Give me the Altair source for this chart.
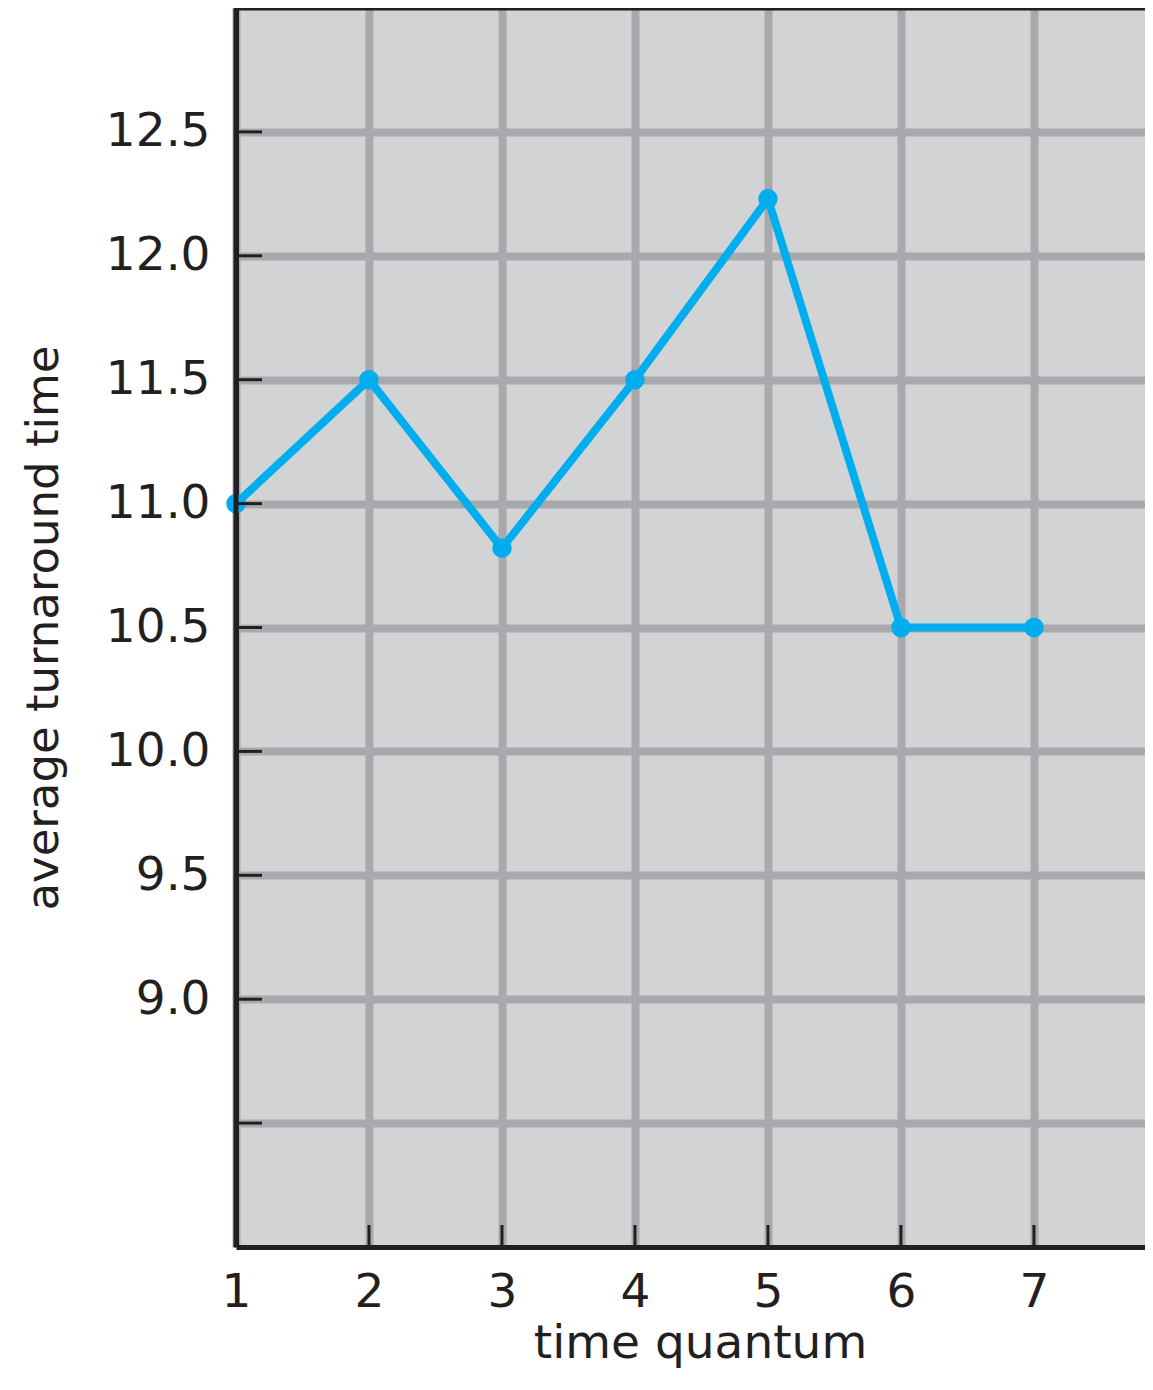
import altair as alt
import pandas as pd

# data
quantum = [1, 2, 3, 4, 5, 6, 7]
turnaround = [11.0, 11.5, 10.82, 11.5, 12.23, 10.5, 10.5]
x_ticks = [1, 2, 3, 4, 5, 6, 7]
x_inner_ticks = [2, 3, 4, 5, 6, 7]
y_ticks = [8.5, 9.0, 9.5, 10.0, 10.5, 11.0, 11.5, 12.0, 12.5]
y_top = [13.0]
x_left = [1]

FONT = "DejaVu Sans"
BLUE = "#00aeef"
GRID = "#a7a9ac"
BG = "#d1d3d4"
INK = "#231f20"

df = pd.DataFrame({"q": quantum, "t": turnaround})
dfx = pd.DataFrame({"x": x_inner_ticks})
dfy = pd.DataFrame({"y": y_ticks})
dftop = pd.DataFrame({"y": y_top})
dfleft = pd.DataFrame({"x": x_left})

xscale = alt.Scale(domain=[1, 7.835], nice=False, zero=False)
yscale = alt.Scale(domain=[8, 13], nice=False, zero=False)

xaxis = alt.Axis(
    values=x_ticks, format="d", grid=True, gridColor=GRID, gridWidth=8,
    domain=True, domainColor=INK, domainWidth=5, ticks=False, tickSize=0,
    labelFont=FONT, labelFontSize=47, labelColor=INK, labelPadding=22,
    labelFlush=False, labelOverlap=False,
    title="time quantum", titleFont=FONT, titleFontSize=47, titleFontWeight="normal",
    titleColor=INK, titleBaseline="alphabetic", titleY=110, titleX=464,
)
yaxis = alt.Axis(
    values=y_ticks, labelExpr="datum.value >= 9 ? format(datum.value, '.1f') : ''",
    grid=True, gridColor=GRID, gridWidth=8,
    domain=True, domainColor=INK, domainWidth=5, ticks=False, tickSize=0,
    labelFont=FONT, labelFontSize=47, labelColor=INK, labelPadding=26,
    labelFlush=False, labelOverlap=False,
    title="average turnaround time", titleFont=FONT, titleFontSize=45,
    titleFontWeight="normal", titleColor=INK, titleBaseline="alphabetic",
    titleX=-179, titleAngle=-90,
)

line = alt.Chart(df).mark_line(color=BLUE, strokeWidth=8).encode(
    x=alt.X("q:Q", scale=xscale, axis=xaxis),
    y=alt.Y("t:Q", scale=yscale, axis=yaxis),
)
pts = alt.Chart(df).mark_circle(color=BLUE, opacity=1).encode(
    x=alt.X("q:Q", scale=xscale, axis=xaxis),
    y=alt.Y("t:Q", scale=yscale, axis=yaxis),
    size=alt.value(380),
)
ytk = alt.Chart(dfy).mark_rule(color=INK, strokeWidth=3).encode(
    y=alt.Y("y:Q", scale=yscale, axis=yaxis),
    x=alt.value(0), x2=alt.value(26),
)
xtk = alt.Chart(dfx).mark_rule(color=INK, strokeWidth=3).encode(
    x=alt.X("x:Q", scale=xscale, axis=xaxis),
    y=alt.value(1217), y2=alt.value(1239),
)
top = alt.Chart(dftop).mark_rule(color=INK, strokeWidth=5).encode(
    y=alt.Y("y:Q", scale=yscale, axis=yaxis),
)
left = alt.Chart(dfleft).mark_rule(color=INK, strokeWidth=5).encode(
    x=alt.X("x:Q", scale=xscale, axis=xaxis),
)

chart = alt.layer(line, pts, ytk, xtk, top, left).properties(
    width=909, height=1239,
    autosize=alt.AutoSizeParams(type="none"),
    padding={"left": 228, "top": 0, "right": 0, "bottom": 123},
    background="white",
).configure_view(fill=BG, strokeWidth=0)

chart.save("out.html", embed_options={"renderer": "svg", "actions": False})
